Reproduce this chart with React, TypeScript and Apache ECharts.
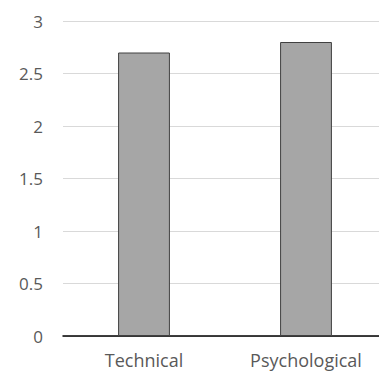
import React, { useEffect, useRef } from "react";
import * as echarts from "echarts";

const categories = ["Technical", "Psychological"];
const values = [2.7, 2.8];
const yTicks = { min: 0, max: 3, interval: 0.5 };

export default function App() {
  const ref = useRef<HTMLDivElement>(null);
  useEffect(() => {
    if (!ref.current) return;
    const chart = echarts.init(ref.current, null, { renderer: "svg" });
    chart.setOption({
      animation: false,
      grid: { left: 63, top: 21, right: 0, bottom: 39 },
      xAxis: {
        type: "category",
        data: categories,
        axisLine: { lineStyle: { color: "#000", width: 1.5 } },
        axisTick: { show: false },
        axisLabel: { color: "#595959", fontSize: 18, fontFamily: "Open Sans", margin: 15 },
      },
      yAxis: {
        type: "value",
        min: yTicks.min,
        max: yTicks.max,
        interval: yTicks.interval,
        axisLine: { show: false },
        axisTick: { show: false },
        splitLine: { lineStyle: { color: "#d9d9d9", width: 1 } },
        axisLabel: { color: "#595959", fontSize: 17, fontFamily: "Open Sans", margin: 20 },
      },
      series: [
        {
          type: "bar",
          data: values,
          barWidth: "32%",
          itemStyle: { color: "#a6a6a6", borderColor: "#404040", borderWidth: 1 },
        },
      ],
    });
    return () => chart.dispose();
  }, []);
  return (
    <div style={{ width: 379, height: 375, position: "absolute", left: 0, top: 0, overflow: "hidden" }}>
      <div ref={ref} style={{ width: 387, height: 375 }} />
    </div>
  );
}
